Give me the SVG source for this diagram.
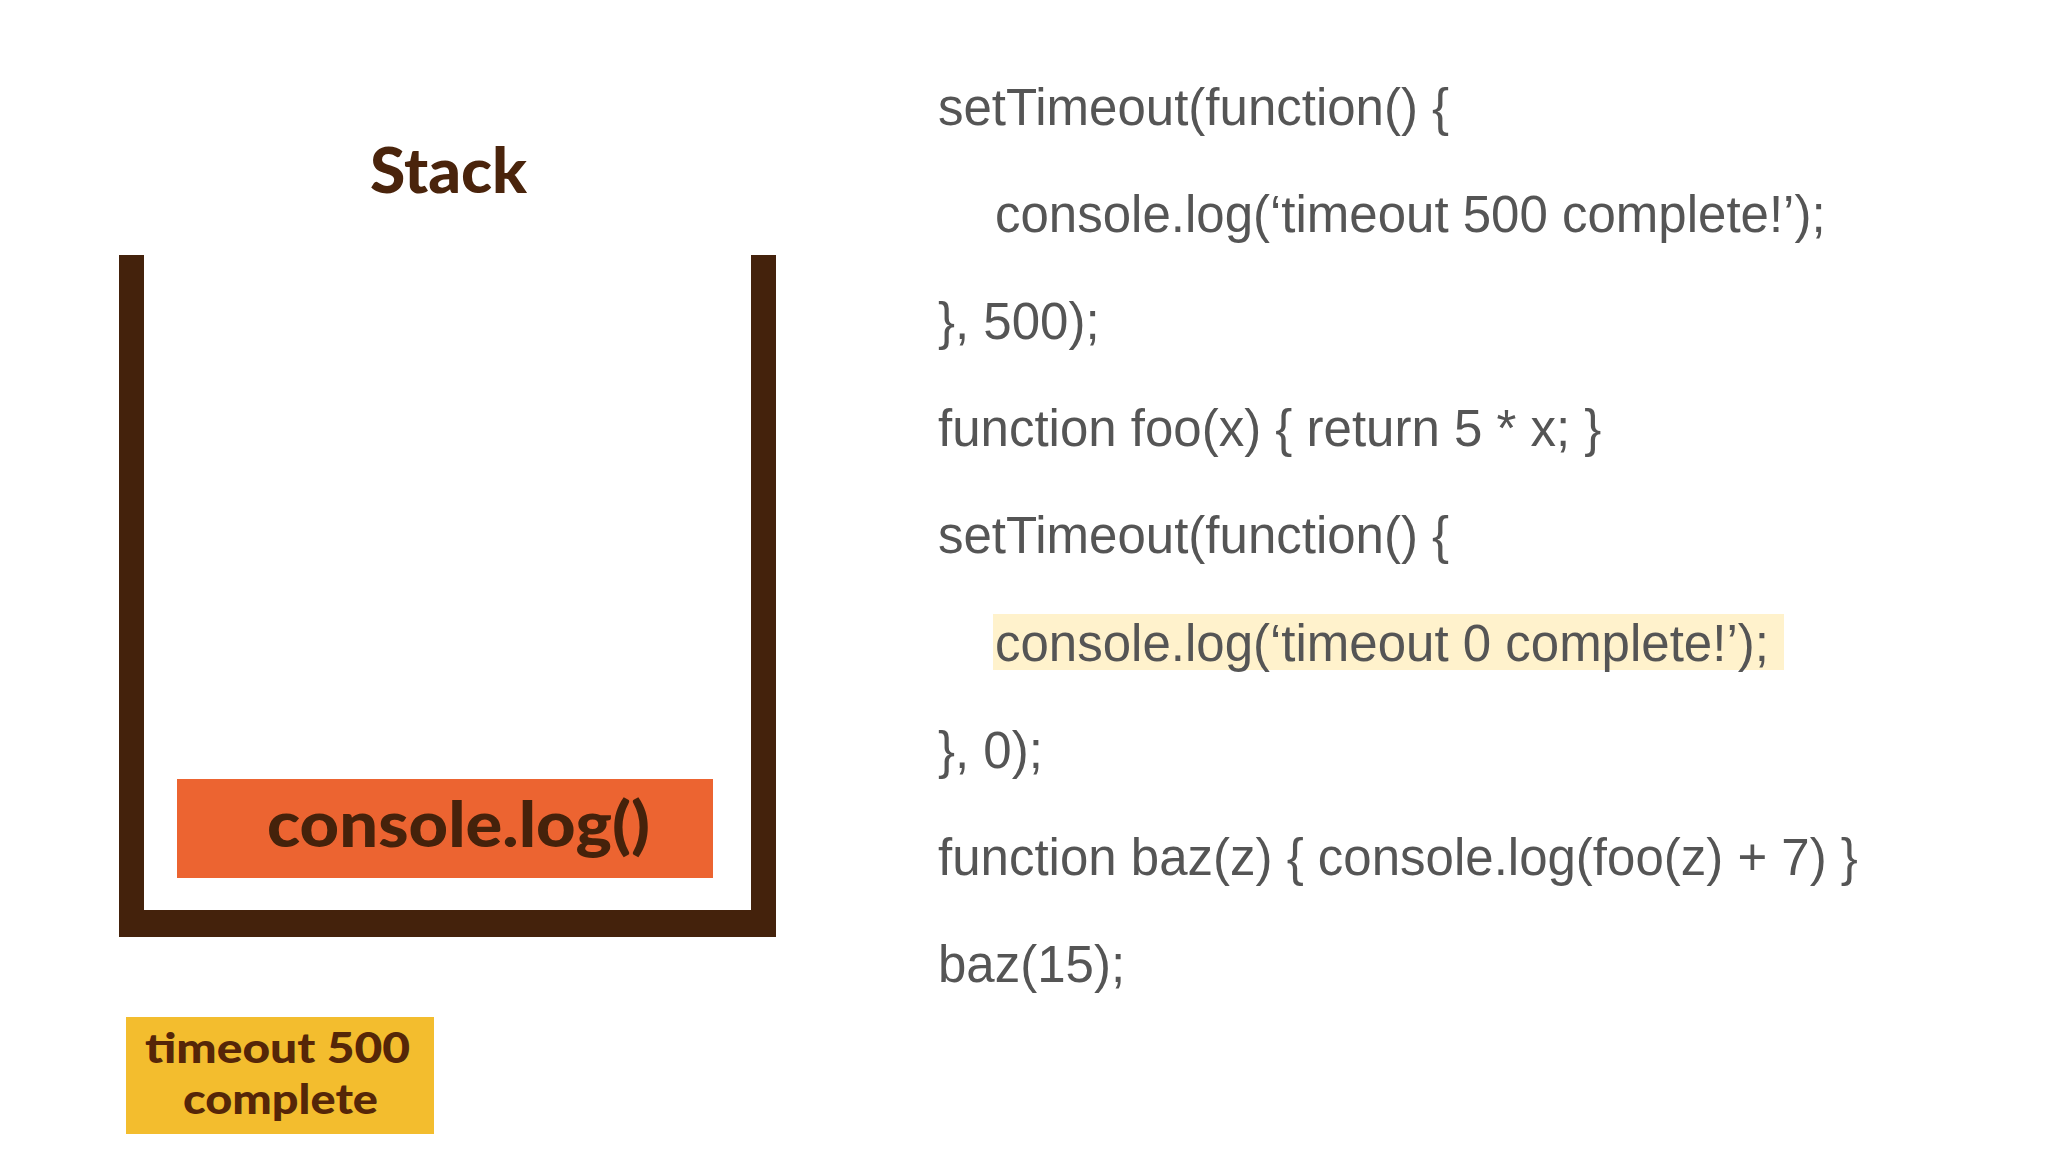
<svg xmlns="http://www.w3.org/2000/svg" width="2048" height="1152" viewBox="0 0 2048 1152">
  <style>
    .code { font-family: "Liberation Sans", Arial, sans-serif; font-size: 51px; fill: #555555; }
    .brand { font-family: Lato, "Open Sans", sans-serif; font-weight: 900; }
    .wall { fill: #44220c; }
  </style>
  <rect x="0" y="0" width="2048" height="1152" fill="#ffffff"/>

  <g id="stack-title">
    <text class="brand" x="370" y="193" font-size="63" fill="#4a240c" textLength="157" lengthAdjust="spacingAndGlyphs">Stack</text>
  </g>

  <g id="stack-container">
    <rect class="wall" x="119" y="255" width="25" height="682"/>
    <rect class="wall" x="751" y="255" width="25" height="682"/>
    <rect class="wall" x="119" y="910" width="657" height="27"/>
  </g>

  <g id="frame-console-log">
    <rect x="177" y="779" width="536" height="99" fill="#ec6431"/>
    <text class="brand" x="267" y="847" font-size="62" fill="#45220b" textLength="383" lengthAdjust="spacingAndGlyphs">console.log()</text>
  </g>

  <g id="timeout-500-complete">
    <rect x="126" y="1017" width="308" height="117" fill="#f3bd2e"/>
    <text class="brand" x="145" y="1063" font-size="42" fill="#552608" textLength="265" lengthAdjust="spacingAndGlyphs">timeout 500</text>
    <text class="brand" x="183" y="1114" font-size="42" fill="#552608" textLength="195" lengthAdjust="spacingAndGlyphs">complete</text>
  </g>

  <g id="code">
    <rect x="993" y="614" width="791" height="56" fill="#fff2cc"/>
    <text class="code" x="938" y="125">setTimeout(function() {</text>
    <text class="code" x="995" y="232">console.log(‘timeout 500 complete!’);</text>
    <text class="code" x="938" y="339">}, 500);</text>
    <text class="code" x="938" y="446">function foo(x) { return 5 * x; }</text>
    <text class="code" x="938" y="553">setTimeout(function() {</text>
    <text class="code" x="995" y="661">console.log(‘timeout 0 complete!’);</text>
    <text class="code" x="938" y="768">}, 0);</text>
    <text class="code" x="938" y="875">function baz(z) { console.log(foo(z) + 7) }</text>
    <text class="code" x="938" y="982">baz(15);</text>
  </g>
</svg>
